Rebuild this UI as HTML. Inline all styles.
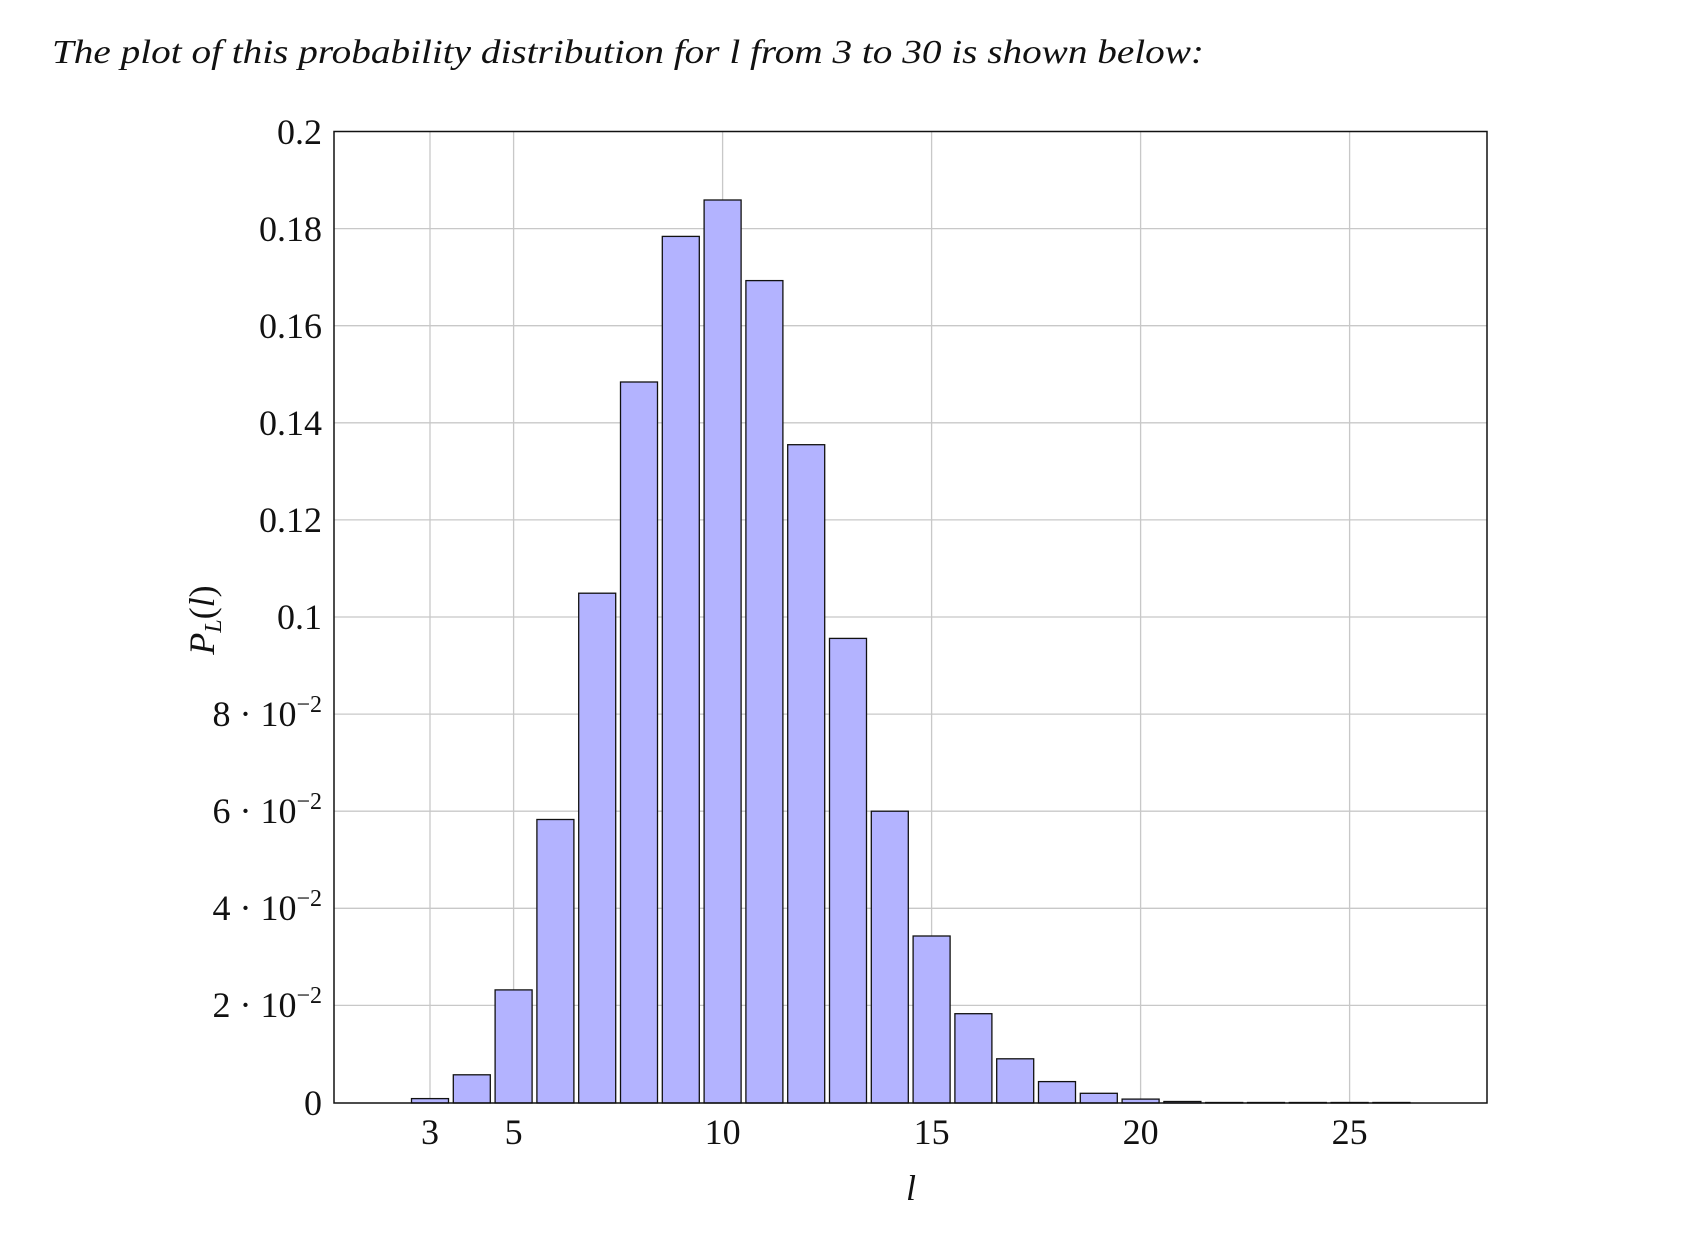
<!DOCTYPE html>
<html><head><meta charset="utf-8"><style>
html,body{margin:0;padding:0;background:#fff;width:1690px;height:1242px;overflow:hidden}
</style></head><body>
<svg width="1690" height="1242" xmlns="http://www.w3.org/2000/svg" font-family="Liberation Serif, serif">
<text x="52" y="63" font-size="34" font-style="italic" fill="#111" textLength="1152" lengthAdjust="spacingAndGlyphs">The plot of this probability distribution for l from 3 to 30 is shown below:</text>
<g stroke="#c8c8c8" stroke-width="1.3">
<line x1="430" y1="131.5" x2="430" y2="1103"/><line x1="513.6" y1="131.5" x2="513.6" y2="1103"/><line x1="722.6" y1="131.5" x2="722.6" y2="1103"/><line x1="931.6" y1="131.5" x2="931.6" y2="1103"/><line x1="1140.6" y1="131.5" x2="1140.6" y2="1103"/><line x1="1349.6" y1="131.5" x2="1349.6" y2="1103"/>
<line x1="334" y1="228.6" x2="1487" y2="228.6"/><line x1="334" y1="325.7" x2="1487" y2="325.7"/><line x1="334" y1="422.8" x2="1487" y2="422.8"/><line x1="334" y1="519.9" x2="1487" y2="519.9"/><line x1="334" y1="617" x2="1487" y2="617"/><line x1="334" y1="714.1" x2="1487" y2="714.1"/><line x1="334" y1="811.2" x2="1487" y2="811.2"/><line x1="334" y1="908.3" x2="1487" y2="908.3"/><line x1="334" y1="1005.4" x2="1487" y2="1005.4"/>
</g>
<g fill="#b3b3ff" stroke="#111" stroke-width="1.3">
<rect x="411.5" y="1098.6" width="37" height="4.4"/>
<rect x="453.3" y="1074.8" width="37" height="28.2"/>
<rect x="495.1" y="989.9" width="37" height="113.1"/>
<rect x="536.9" y="819.5" width="37" height="283.5"/>
<rect x="578.7" y="593.2" width="37" height="509.8"/>
<rect x="620.5" y="382" width="37" height="721"/>
<rect x="662.3" y="236.4" width="37" height="866.6"/>
<rect x="704.1" y="200" width="37" height="903"/>
<rect x="745.9" y="280.6" width="37" height="822.4"/>
<rect x="787.7" y="444.7" width="37" height="658.3"/>
<rect x="829.5" y="638.4" width="37" height="464.6"/>
<rect x="871.3" y="811.2" width="37" height="291.8"/>
<rect x="913.1" y="936" width="37" height="167"/>
<rect x="954.9" y="1013.7" width="37" height="89.3"/>
<rect x="996.7" y="1058.8" width="37" height="44.2"/>
<rect x="1038.5" y="1081.6" width="37" height="21.4"/>
<rect x="1080.3" y="1093.3" width="37" height="9.7"/>
<rect x="1122.1" y="1099.1" width="37" height="3.9"/>
<rect x="1163.9" y="1101.5" width="37" height="1.5"/>
<rect x="1205.7" y="1102.5" width="37" height="0.5"/>
<rect x="1247.5" y="1102.5" width="37" height="0.5"/>
<rect x="1289.3" y="1102.5" width="37" height="0.5"/>
<rect x="1331.1" y="1102.5" width="37" height="0.5"/>
<rect x="1372.9" y="1102.5" width="37" height="0.5"/>
</g>
<rect x="334" y="131.5" width="1153" height="971.5" fill="none" stroke="#111" stroke-width="1.5"/>
<g font-size="36" fill="#111" text-anchor="end">
<text x="322" y="144">0.2</text><text x="322" y="241">0.18</text><text x="322" y="338">0.16</text><text x="322" y="435">0.14</text><text x="322" y="532">0.12</text><text x="322" y="629">0.1</text>
<text x="322" y="726">8 · 10<tspan font-size="24" dy="-14">−2</tspan></text>
<text x="322" y="823">6 · 10<tspan font-size="24" dy="-14">−2</tspan></text>
<text x="322" y="920">4 · 10<tspan font-size="24" dy="-14">−2</tspan></text>
<text x="322" y="1017">2 · 10<tspan font-size="24" dy="-14">−2</tspan></text>
<text x="322" y="1115">0</text>
</g>
<g font-size="36" fill="#111" text-anchor="middle">
<text x="430" y="1144">3</text><text x="513.6" y="1144">5</text><text x="722.6" y="1144">10</text><text x="931.6" y="1144">15</text><text x="1140.6" y="1144">20</text><text x="1349.6" y="1144">25</text>
<text x="911" y="1200" font-style="italic">l</text>
</g>
<text transform="translate(214,620) rotate(-90)" font-size="36" font-style="italic" fill="#111" text-anchor="middle">P<tspan font-size="24" dy="7">L</tspan><tspan dy="-7" font-style="normal">(</tspan>l<tspan font-style="normal">)</tspan></text>
</svg>
</body></html>
